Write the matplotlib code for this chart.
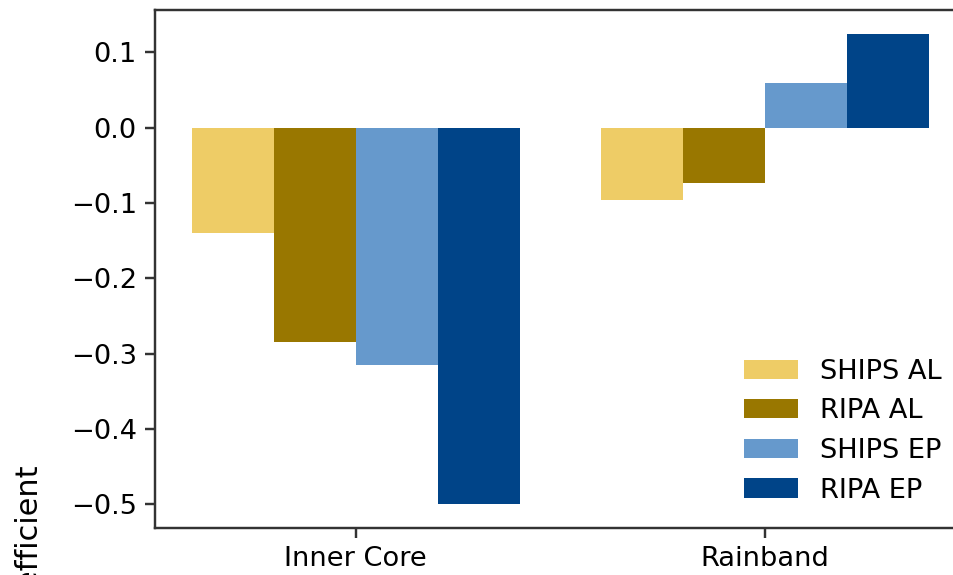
import numpy as np
import matplotlib
matplotlib.use("Agg")
import matplotlib.pyplot as plt

# regions and correlation coefficients per model / basin
regions = ["Inner Core", "Rainband"]
series = ["SHIPS AL", "RIPA AL", "SHIPS EP", "RIPA EP"]
ships_al = [-0.140, -0.096]
ripa_al = [-0.284, -0.074]
ships_ep = [-0.315, 0.059]
ripa_ep = [-0.500, 0.125]
colors = ["#EECC66", "#997700", "#6699CC", "#004488"]

values = [ships_al, ripa_al, ships_ep, ripa_ep]

plt.rcParams["font.size"] = 11.2
plt.rcParams["axes.linewidth"] = 1.0
plt.rcParams["axes.edgecolor"] = "#333333"

dpi = 175
fig = plt.figure(figsize=(954 / dpi, 575 / dpi), dpi=dpi)
ax = fig.add_axes([155 / 954, 1 - 528 / 575, (966 - 155) / 954, (528 - 10) / 575])

x = np.arange(len(regions))
width = 0.2
for i, (name, vals) in enumerate(zip(series, values)):
    ax.bar(x + (i - 1.5) * width, vals, width, color=colors[i], label=name)

ax.set_xticks(x)
ax.set_xticklabels(regions)
ax.tick_params(length=4, width=1.0, color="#333333")
ax.legend(loc="lower right", frameon=False)

fig.text(30 / 954, 1 - 465 / 575, "Correlation Coefficient", rotation=90,
         ha="center", va="top", fontsize=12.5)

fig.savefig("out.png", dpi=dpi)
